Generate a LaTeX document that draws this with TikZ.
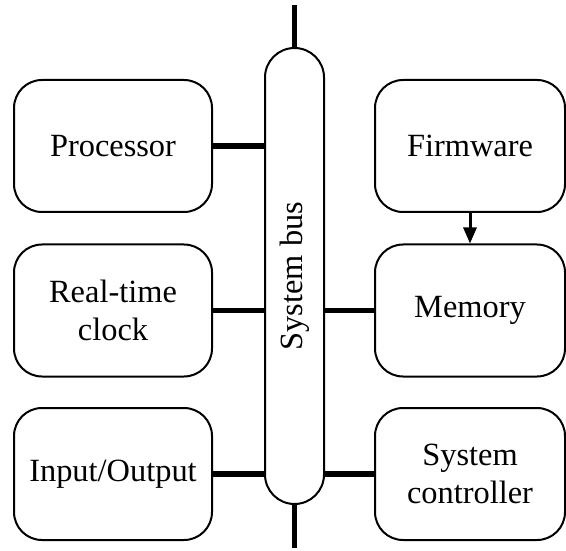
\documentclass[tikz,border=0pt]{standalone}
\usepackage{fontspec}
\setmainfont{Liberation Serif}
\usetikzlibrary{arrows.meta}

\tikzset{
  unit/.style={draw, line width=1pt, rounded corners=14pt, minimum width=99pt,
    minimum height=66pt, align=center, inner sep=0pt},
  link/.style={line width=2.75pt},
}

\begin{document}
\begin{tikzpicture}[x=0.5pt, y=-0.5pt, font=\fontsize{16.2}{19}\selectfont, >={Triangle[length=8pt, width=6.5pt]}]
    \useasboundingbox (0,0) rectangle (566,550);
    % Bus
    \node[draw, line width=1pt, rounded corners=14.75pt, minimum width=29.5pt,
      minimum height=228pt, inner sep=0pt] (bus) at (294.5,276) {};
    \node[rotate=90] (buslabel) at (bus.center) {System bus};
    \coordinate (bustop) at (294.5,5);
    \coordinate (busbot) at (294.5,548);
    \draw[link] (bus.north) -- (bustop);
    \draw[link] (bus.south) -- (busbot);
    % Blocks on the left
    \node[unit] (proc) at (113,146) {Processor};
    \node[unit] (rtc) at (113,310.5) {Real-time\\clock};
    \node[unit] (io) at (113,474) {Input/Output};
    % Blocks on the right
    \node[unit, minimum width=95pt] (firm) at (470,146) {Firmware};
    \node[unit, minimum width=95pt] (mem) at (470,310.5) {Memory};
    \node[unit, minimum width=95pt] (ctrl) at (470,474) {System\\controller};
    % Links to the bus
    \draw[link] (proc.east) -- (proc.east -| bus.west);
    \draw[link] (rtc.east) -- (rtc.east -| bus.west);
    \draw[link] (io.east) -- (io.east -| bus.west);
    \draw[link] (mem.west) -- (mem.west -| bus.east);
    \draw[link] (ctrl.west) -- (ctrl.west -| bus.east);
    \draw[->, line width=1.5pt] (firm.south) -- (mem.north);
\end{tikzpicture}
\end{document}
